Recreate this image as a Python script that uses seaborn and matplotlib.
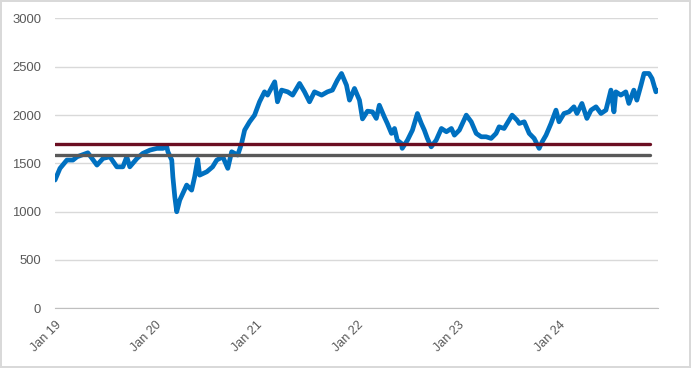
import pandas as pd
import seaborn as sns
import matplotlib
import matplotlib.pyplot as plt
import matplotlib.dates as mdates
matplotlib.use('Agg')

# values
dates = [
    "2019-01-01", "2019-01-19", "2019-02-13", "2019-03-07", "2019-03-22", "2019-04-30",
    "2019-06-02", "2019-06-24", "2019-07-19", "2019-08-13", "2019-09-04", "2019-09-18",
    "2019-09-29", "2019-10-25", "2019-11-15", "2019-12-11", "2020-01-05", "2020-01-27",
    "2020-02-10", "2020-02-14", "2020-02-28", "2020-03-03", "2020-03-10", "2020-03-17",
    "2020-03-28", "2020-04-08", "2020-04-22", "2020-05-10", "2020-05-21", "2020-06-01",
    "2020-06-08", "2020-07-04", "2020-07-25", "2020-08-09", "2020-08-31", "2020-09-18",
    "2020-10-02", "2020-10-24", "2020-11-07", "2020-11-18", "2020-12-06", "2020-12-24",
    "2021-01-11", "2021-01-29", "2021-02-09", "2021-03-07", "2021-03-17", "2021-04-01",
    "2021-04-23", "2021-05-11", "2021-06-05", "2021-06-23", "2021-07-11", "2021-07-29",
    "2021-08-24", "2021-09-14", "2021-10-02", "2021-10-20", "2021-11-04", "2021-11-22",
    "2021-12-03", "2021-12-21", "2022-01-08", "2022-01-19", "2022-02-06", "2022-02-24",
    "2022-03-10", "2022-03-21", "2022-04-08", "2022-04-19", "2022-05-04", "2022-05-15",
    "2022-05-25", "2022-06-09", "2022-06-12", "2022-07-01", "2022-07-19", "2022-08-06",
    "2022-08-20", "2022-08-31", "2022-09-11", "2022-09-25", "2022-10-13", "2022-11-01",
    "2022-11-19", "2022-12-07", "2022-12-18", "2023-01-05", "2023-01-30", "2023-02-17",
    "2023-03-07", "2023-03-25", "2023-04-12", "2023-04-30", "2023-05-18", "2023-05-29",
    "2023-06-16", "2023-06-27", "2023-07-15", "2023-08-02", "2023-08-10", "2023-08-28",
    "2023-09-15", "2023-10-03", "2023-10-21", "2023-11-01", "2023-11-15", "2023-12-03",
    "2023-12-21", "2024-01-01", "2024-01-19", "2024-02-06", "2024-02-24", "2024-03-06",
    "2024-03-24", "2024-04-11", "2024-04-26", "2024-05-14", "2024-06-01", "2024-06-19",
    "2024-07-07", "2024-07-18", "2024-07-25", "2024-08-12", "2024-08-30", "2024-09-10",
    "2024-09-28", "2024-10-09", "2024-10-24", "2024-11-04", "2024-11-22", "2024-12-03",
    "2024-12-17", "2024-12-21",
]
price = [
    1327, 1448, 1534, 1534, 1568, 1609,
    1482, 1551, 1568, 1464, 1464, 1568,
    1464, 1551, 1603, 1637, 1655, 1655,
    1671, 1620, 1534, 1361, 1154, 999,
    1120, 1189, 1275, 1223, 1361, 1540,
    1378, 1413, 1464, 1534, 1568, 1448,
    1620, 1586, 1706, 1844, 1930, 1999,
    2137, 2240, 2206, 2344, 2137, 2258,
    2240, 2206, 2327, 2240, 2137, 2240,
    2206, 2240, 2258, 2361, 2430, 2309,
    2154, 2275, 2154, 1960, 2040, 2033,
    1965, 2102, 1981, 1913, 1810, 1861,
    1740, 1706, 1655, 1740, 1844, 2016,
    1913, 1844, 1758, 1671, 1740, 1861,
    1827, 1861, 1792, 1844, 1999, 1930,
    1810, 1775, 1775, 1758, 1810, 1878,
    1861, 1913, 1999, 1947, 1913, 1930,
    1810, 1758, 1655, 1723, 1792, 1913,
    2051, 1930, 2016, 2033, 2085, 2016,
    2120, 1965, 2051, 2085, 2016, 2051,
    2258, 2033, 2240, 2206, 2240, 2120,
    2258, 2154, 2309, 2430, 2430, 2378,
    2240, 2258,
]
level_dates = ["2019-01-01", "2024-11-26"]
upper_level = [1700, 1700]
lower_level = [1590, 1590]

df = pd.DataFrame({"date": pd.to_datetime(dates), "price": price})
lv = pd.DataFrame({"date": pd.to_datetime(level_dates),
                   "upper": upper_level, "lower": lower_level})

sns.set_style("white")
plt.rcParams['font.family'] = ['Liberation Sans', 'DejaVu Sans']

fig = plt.figure(figsize=(6.91, 3.68), dpi=100, edgecolor='#d9d9d9', linewidth=1.5)
ax = fig.add_axes([0.0796, 0.1622, 0.8724, 0.7878])

sns.lineplot(data=df, x="date", y="price", ax=ax, color="#0070C0", linewidth=3.4, zorder=2)
sns.lineplot(data=lv, x="date", y="upper", ax=ax, color="#6B0E22", linewidth=2.4, zorder=3)
sns.lineplot(data=lv, x="date", y="lower", ax=ax, color="#595959", linewidth=2.4, zorder=3)

ax.set_ylim(0, 3000)
ax.set_xlim(pd.Timestamp("2019-01-01"), pd.Timestamp("2024-12-24"))
ax.set_yticks(range(0, 3001, 500))
ax.yaxis.grid(True, color="#d9d9d9", linewidth=1)
ax.set_axisbelow(True)

ax.xaxis.set_major_locator(mdates.YearLocator())
ax.xaxis.set_major_formatter(mdates.DateFormatter('%b %y'))
plt.setp(ax.get_xticklabels(), rotation=45, ha='right', rotation_mode='anchor')

for s in ['left', 'right', 'top']:
    ax.spines[s].set_visible(False)
ax.spines['bottom'].set_color('#bfbfbf')
ax.tick_params(axis='x', length=5, color='#bfbfbf', labelsize=9, labelcolor='#595959', pad=3)
ax.tick_params(axis='y', length=0, labelsize=9.4, labelcolor='#595959', pad=10)
ax.set_xlabel("")
ax.set_ylabel("")

fig.savefig('out.png', dpi=100)
